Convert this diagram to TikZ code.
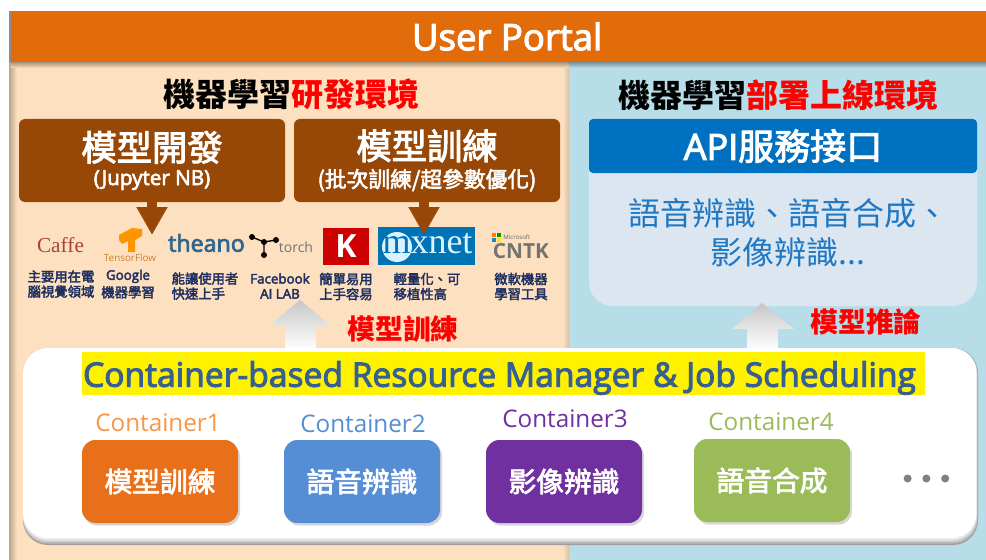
\documentclass[tikz,border=0pt]{standalone}
\usepackage{fontspec}
\setmainfont{Open Sans}
\newfontfamily\cjk{Noto Sans CJK TC}
\newfontfamily\cjkm[FakeBold=2.6]{Noto Sans CJK TC}
\newfontfamily\opm[FakeBold=3]{Open Sans}
\usetikzlibrary{arrows.meta,shadows,calc}
\definecolor{barorange}{HTML}{E36C0A}
\definecolor{leftpanel}{HTML}{FDE0BF}
\definecolor{rightpanel}{HTML}{B7DDE8}
\definecolor{brownbox}{HTML}{974806}
\definecolor{apiblue}{HTML}{0070C0}
\definecolor{apibody}{HTML}{DCE6F1}
\definecolor{apitext}{HTML}{1F78C4}
\definecolor{titleblue}{HTML}{376092}
\definecolor{navy}{HTML}{1F2F5F}
\definecolor{cone}{HTML}{E8701A}
\definecolor{conelabel}{HTML}{F79646}
\definecolor{ctwo}{HTML}{558ED5}
\definecolor{cthree}{HTML}{7030A0}
\definecolor{cfour}{HTML}{9BBB59}
\definecolor{caffered}{HTML}{A8413F}
\newcommand{\fs}[1]{\fontsize{#1}{#1}\selectfont}
\tikzset{
  x=0.75pt,y=-0.75pt,
  brownbox/.style={fill=brownbox,rounded corners=4.5pt,text=white,minimum width=199.5pt,minimum height=62.25pt,inner sep=0pt,align=center},
  ctbox/.style={rounded corners=10pt,text=white,minimum width=117pt,minimum height=62.25pt,inner sep=0pt,font=\cjkm\fs{20.8},
    drop shadow={opacity=.3,shadow xshift=1.5pt,shadow yshift=-2pt}},
  ctlabel/.style={font=\fs{18.2},inner sep=0pt},
  heading/.style={font=\cjk\bfseries\fs{24},inner sep=0pt},
  redlabel/.style={font=\cjk\bfseries\fs{20.8},text=red,inner sep=0pt},
  small/.style={font=\cjkm\fs{10},text=navy,inner sep=0pt,align=center,text depth=0pt},
  smalll/.style={small,align=left},
  brownarrow/.style={draw=brownbox,line width=7.5pt,-{Triangle[length=21pt,width=22pt]}},
  whitearrow/.style={top color=black!22,bottom color=white},
}
\begin{document}
\begin{tikzpicture}
\useasboundingbox (0,0) rectangle (986,560);
\fill[white] (0,0) rectangle (986,560);
% panels
\fill[black!45] (9,11) rectangle (11,62);
\fill[leftpanel!75!black] (9,62) rectangle (11,560);
\fill[leftpanel] (11,62) rectangle (569,560);
\fill[rightpanel] (569,62) rectangle (986,560);
\shade[left color=leftpanel!80!black,right color=leftpanel] (11,62) rectangle (17,560);
\shade[left color=leftpanel,right color=leftpanel!85!black] (563,62) rectangle (569,560);
\shade[top color=leftpanel!65!black,bottom color=leftpanel] (11,62) rectangle (569,68);
\shade[top color=rightpanel!65!black,bottom color=rightpanel] (569,62) rectangle (986,68);
\node[fill=barorange,text=white,minimum width=731.25pt,minimum height=38.25pt,inner sep=0pt,font=\opm\fs{27.4}] (portal) at (498.5,36.5) {\hspace{13pt}User Portal};
% headings
\node[heading] (devhead) at (291,94) {機器學習\textcolor{red}{研發環境}};
\node[heading] (dephead) at (778,95) {機器學習\textcolor{red}{部署上線環境}};
% logos
\node[font=\fontspec{Liberation Serif}\fs{16},text=caffered,inner sep=0pt] (caffe) at (60.5,245) {Caffe};
\fill[orange!85!yellow] (119,235) -- (132,228) -- (142,229) -- (142,236) -- (135,240) -- (135,252) -- (128,252) -- (128,241) -- (122,244) -- (119,240) -- cycle;
\node[font=\fs{7.4},text=orange!60!gray,inner sep=0pt] (tf) at (130,257.5) {TensorFlow};
\node[font=\opm\fs{17.4},text=titleblue!85!teal,inner sep=0pt] (theano) at (206.5,243) {theano};
\coordinate (ta) at (252,237);\coordinate (tb) at (264,242);\coordinate (tc) at (276,240);\coordinate (td) at (264,255);
\draw[black,line width=1pt] (ta)--(tb)--(tc) (tb)--(td);
\foreach \p in {ta,tb,tc,td}{\fill[black] (\p) circle (3);}
\node[font=\fs{10.5},text=black!55,inner sep=0pt] (torch) at (296,247) {torch};
\node[fill=red!80!black,text=white,minimum width=34.5pt,minimum height=27.75pt,inner sep=0pt,font=\bfseries\fs{24}] (keras) at (346,246.5) {K};
\node[fill=apiblue!85!teal,minimum width=72.75pt,minimum height=28.5pt,inner sep=0pt] (mx) at (426.5,246) {};
\fill[white!85!cyan] (397,247) circle (15);
\node[font=\fontspec{Liberation Serif}\fs{27},inner sep=0pt,text=white!85!cyan] (mxt) at (427.5,243.5) {\textcolor{apiblue}{m}xnet};
\foreach \a/\b/\c in {492/233/orange,496.5/233/green!60!black,492/237.5/cyan!70!blue,496.5/237.5/yellow!90!orange}{\fill[\c] (\a,\b) rectangle ++(4,4);}
\node[font=\fs{4.6},text=black!60,inner sep=0pt,anchor=west] (ms) at (503,237) {Microsoft};
\node[font=\bfseries\fs{15.6},text=black!55,inner sep=0pt] (cntk) at (521,251) {CNTK};
% small texts
\node[small] (t1) at (61,283.5) {主要用在電\\[1.3pt]腦視覺領域};
\node[small] (t2) at (128,283.5) {{\opm Google}\\[1.3pt]機器學習};
\node[smalll] (t3) at (205,285.5) {能讓使用者\\[1.3pt]快速上手};
\node[small] (t4) at (280,286) {{\opm Facebook}\\[1.3pt]{\opm AI LAB}};
\node[small] (t5) at (346,286) {簡單易用\\[1.3pt]上手容易};
\node[smalll] (t6) at (427,286) {輕量化、可\\[1.3pt]移植性高};
\node[small] (t7) at (521,286) {微軟機器\\[1.3pt]學習工具};
% brown boxes
\node[brownbox] (dev) at (152,160.5) {{\cjkm\fs{26.5}模型開發}\\[4pt]{\opm\fs{15.5}(Jupyter NB)}};
\node[brownbox] (train) at (427,160.5) {{\cjkm\fs{26.5}模型訓練}\\[4pt]{\cjkm\fs{16.3}(批次訓練/超參數優化)}};
\coordinate (devtip) at (152,235);
\coordinate (traintip) at (424,235);
\draw[brownarrow] (dev.south) -- (devtip);
\draw[brownarrow] (traintip |- train.south) -- (traintip);
% API
\node[fill=apibody,rounded corners=18pt,minimum width=291pt,minimum height=140.25pt,inner sep=0pt] (apibodybox) at (783,212.5) {};
\node[fill=apiblue,rounded corners=3pt,text=white,minimum width=291pt,minimum height=40.5pt,inner sep=0pt,font=\cjkm\fs{27}] (api) at (783,146) {{\opm API}服務接口};
\node[font=\cjk\fs{24},text=apitext,inner sep=0pt,align=center] (apitxt) at (788,232.5) {語音辨識、語音合成、\\[5pt]影像辨識...};
% white arrows
\shade[whitearrow] (300,300) -- (330,325) -- (316,325) -- (316,350) -- (285,350) -- (285,325) -- (270,325) -- cycle;
\shade[whitearrow] (762,303) -- (794,329) -- (778,329) -- (778,350) -- (747,350) -- (747,329) -- (732,329) -- cycle;
\node[redlabel] (trainlabel) at (403,329) {模型訓練};
\node[redlabel] (inferlabel) at (866,322) {模型推論};
% main white box
\foreach \i/\c in {0/38,1/28,2/20,3/13,4/6}{
  \fill[black!\c,rounded corners=18.75pt] (23,348) rectangle ({978-\i*0.4},{545-\i*1.4});
}
\node[fill=white,rounded corners=18.75pt,minimum width=715pt,minimum height=142.5pt,inner sep=0pt] (main) at (499.75,443) {};
\node[fill=yellow,minimum width=632.25pt,minimum height=32.25pt,inner sep=0pt] (rmbg) at (503.5,373.5) {};
\node[inner sep=0pt,text=titleblue,font=\opm\fs{25.2}] (rm) at (499.5,378) {Container-based Resource Manager \& Job Scheduling};
% containers
\node[ctlabel,text=conelabel] (l1) at (158,423) {Container1};
\node[ctlabel,text=ctwo] (l2) at (363,424) {Container2};
\node[ctlabel,text=cthree] (l3) at (565,419) {Container3};
\node[ctlabel,text=cfour] (l4) at (771,422) {Container4};
\node[ctbox,fill=cone] (c1) at (160,481.5) {模型訓練};
\node[ctbox,fill=ctwo] (c2) at (362,481.5) {語音辨識};
\node[ctbox,fill=cthree] (c3) at (564,481.5) {影像辨識};
\node[ctbox,fill=cfour] (c4) at (772,480.5) {語音合成};
\foreach \x in {907.6,926.4,945.2}{\fill[black!50] (\x,478.5) circle (4);}
\end{tikzpicture}
\end{document}
